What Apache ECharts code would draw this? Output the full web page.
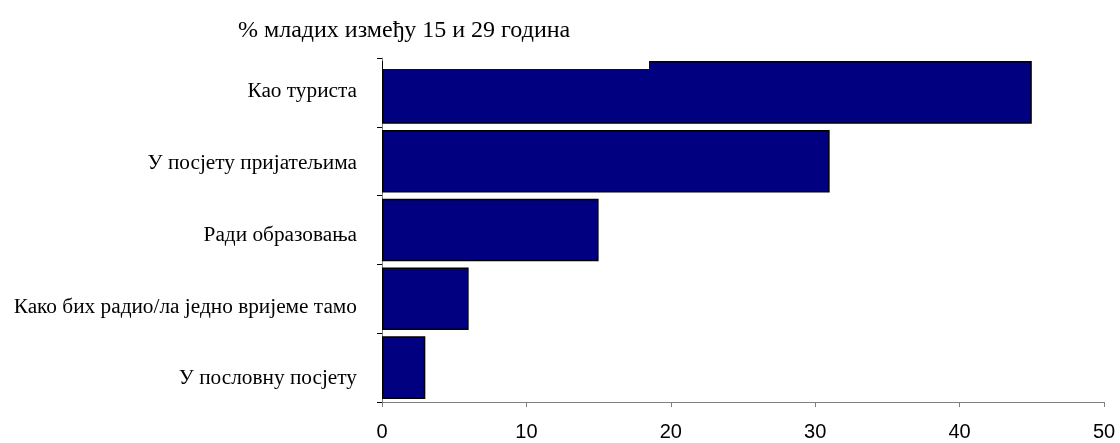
<!DOCTYPE html>
<html><head><meta charset="utf-8">
<script src="https://cdn.jsdelivr.net/npm/echarts@6/dist/echarts.min.js"></script>
<style>html,body{margin:0;padding:0;background:#fff}#c{width:1120px;height:443px}</style>
</head><body><div id="c"></div>
<script>
const categories = ['Као туриста','У посјету пријатељима','Ради образовања','Како бих радио/ла једно вријеме тамо','У пословну посјету'];
const values = [45, 31, 15, 6, 3];
const xTicks = [0, 10, 20, 30, 40, 50];
const titleText = '% младих између 15 и 29 година';

const labelFont = {fontFamily:'Liberation Serif',fontSize:21.3,color:'#000'};
const rich = {
  l0: Object.assign({padding:[0,0,3,0]}, labelFont),
  l1: Object.assign({padding:[4,0,0,0]}, labelFont),
  l2: Object.assign({padding:[10,0,0,0]}, labelFont),
  l3: Object.assign({padding:[18,0,0,0]}, labelFont),
  l4: Object.assign({padding:[22,0,0,0]}, labelFont)
};

const chart = echarts.init(document.getElementById('c'), null, {renderer:'canvas'});
chart.setOption({
  animation:false,
  backgroundColor:'#fff',
  title:{text:titleText,left:233,top:14,textStyle:{fontFamily:'Liberation Serif',fontSize:24,fontWeight:'normal',color:'#000'}},
  grid:{left:382,right:16,top:58,bottom:41},
  xAxis:{type:'value',min:xTicks[0],max:xTicks[xTicks.length-1],interval:10,
    axisLine:{show:true,lineStyle:{color:'#808080',width:1}},
    axisTick:{show:true,length:5,lineStyle:{color:'#808080'}},
    splitLine:{show:false},
    axisLabel:{margin:20,fontFamily:'Liberation Sans',fontSize:20,color:'#000'}},
  yAxis:{type:'category',inverse:true,data:categories,
    axisLine:{show:true,lineStyle:{color:'#808080',width:1}},
    axisTick:{show:true,length:5,lineStyle:{color:'#000'}},
    axisLabel:Object.assign({margin:25,rich:rich,
      formatter:function(v,i){return '{l'+i+'|'+v+'}';}}, labelFont)},
  series:[{type:'bar',data:values,barCategoryGap:'9%',
    itemStyle:{color:'#000080',borderColor:'#000',borderWidth:1.5}}],
  graphic:[{type:'rect',shape:{x:383,y:55,width:266,height:14},style:{fill:'#fff'},z:100}]
});
</script></body></html>
